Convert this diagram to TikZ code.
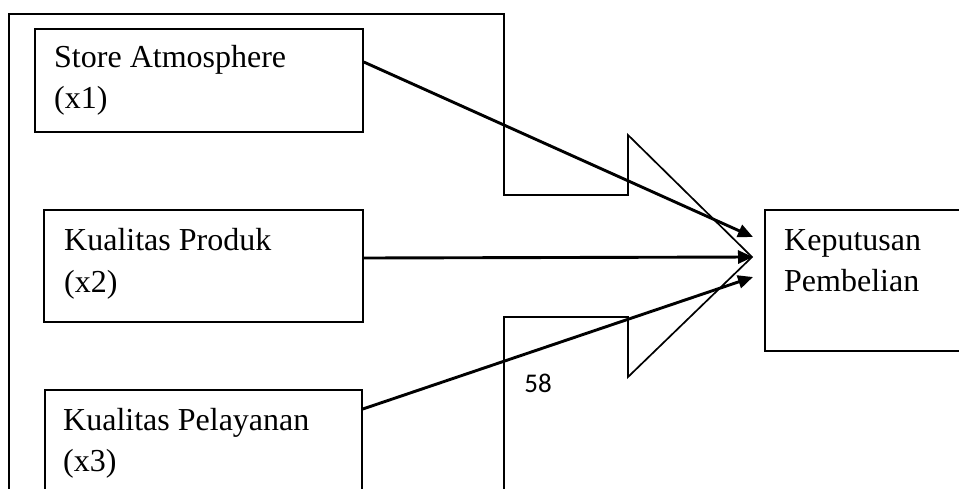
\documentclass[tikz,border=0pt]{standalone}
\usepackage{fontspec}
\setmainfont{Liberation Serif}
\newfontfamily\calfont{Carlito}
\usetikzlibrary{arrows.meta}
\begin{document}
\begin{tikzpicture}[x=1pt,y=-1pt,
  boxline/.style={draw=black, line width=1.8pt},
  lbl/.style={anchor=base west, inner sep=0pt, font=\fontsize{32}{41}\selectfont},
  arr/.style={line width=2.9pt, -{Triangle[length=15pt,width=13pt]}, shorten >=0pt}]
\useasboundingbox (0,0) rectangle (959,488);
\fill[white] (0,0) rectangle (959,488);
\clip (0,0) rectangle (959,488);
% outline shape
\draw[line width=1.7pt, line join=miter] (9,500) -- (9,14) -- (504,14) -- (504,195) -- (628,195) -- (628,135) -- (752,257) -- (628,377) -- (628,317) -- (504,317) -- (504,500);
% boxes
\node (b1) [boxline, anchor=north west, minimum width=328pt, minimum height=103pt, inner sep=0pt] at (34,28) {};
\node (b2) [boxline, anchor=north west, minimum width=319pt, minimum height=112pt, inner sep=0pt] at (43,209) {};
\node (b3) [boxline, anchor=north west, minimum width=317pt, minimum height=120pt, inner sep=0pt] at (44,389) {};
\node (b4) [boxline, anchor=north west, minimum width=220pt, minimum height=141pt, inner sep=0pt] at (764,209) {};
% labels
\node (l1a) [lbl] at (54,67) {Store Atmosphere};
\node (l1b) [lbl] at (54,108) {(x1)};
\node (l2a) [lbl] at (64,250) {Kualitas Produk};
\node (l2b) [lbl] at (64,292) {(x2)};
\node (l3a) [lbl] at (63,430) {Kualitas Pelayanan};
\node (l3b) [lbl] at (63,471) {(x3)};
\node (l4a) [lbl] at (784,250) {Keputusan};
\node (l4b) [lbl] at (784,291) {Pembelian};
\node (n58) [inner sep=0pt, font=\calfont\fontsize{27}{30}\selectfont] at (538,383) {58};
% connector endpoints
\coordinate (s1) at (b1.north east |- 0,62);
\coordinate (s2) at (b2.north east |- 0,258);
\coordinate (s3) at (b3.north east |- 0,409);
\coordinate (t1) at (753,237);
\coordinate (t2) at (753,257);
\coordinate (t3) at (753,277);
\draw[arr] (s1) -- (t1);
\draw[arr] (s2) -- (t2);
\draw[arr] (s3) -- (t3);
\end{tikzpicture}
\end{document}
